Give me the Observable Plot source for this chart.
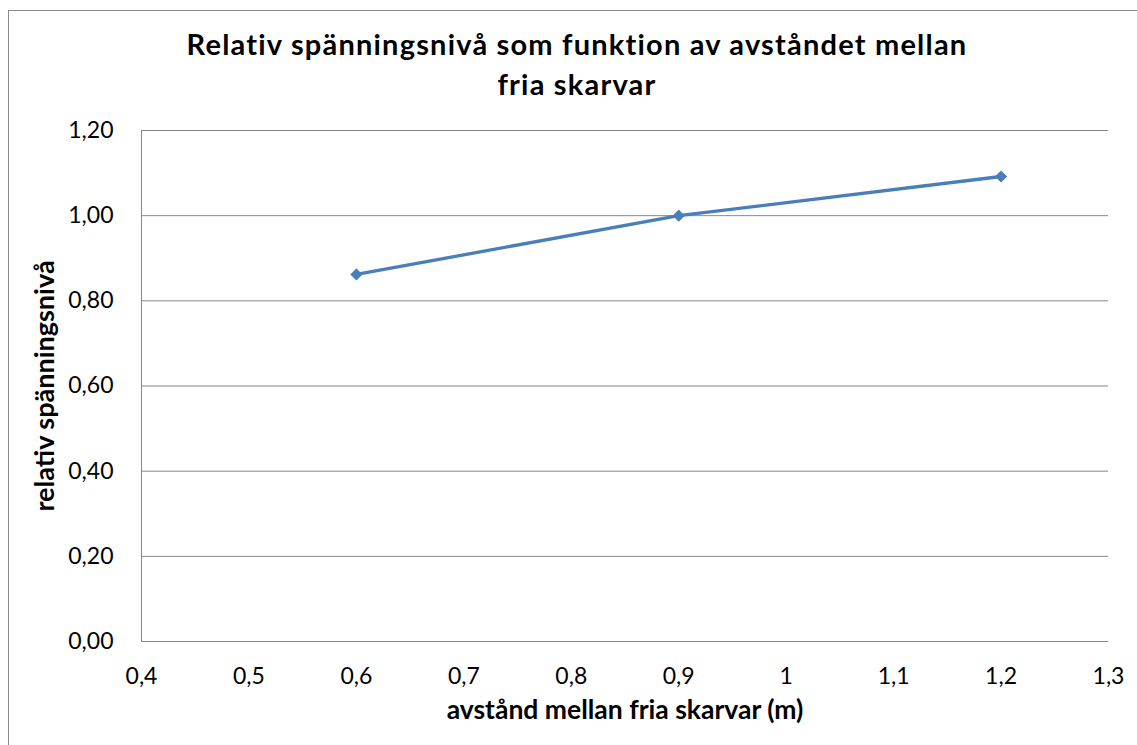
<!DOCTYPE html>
<html><head><meta charset="utf-8">
<script src="https://cdn.jsdelivr.net/npm/d3@7"></script>
<script src="https://cdn.jsdelivr.net/npm/@observablehq/plot@0.6"></script>
<style>
body{margin:0;background:#fff;width:1137px;height:745px;overflow:hidden;position:relative;font-family:Lato,sans-serif}
#frame{position:absolute;left:8px;top:10px;width:1200px;height:800px;border-left:1px solid #8a8a8a;border-top:1px solid #8a8a8a;z-index:2;pointer-events:none}
#title{position:absolute;left:0;top:24px;width:1154px;text-align:center;font-weight:bold;font-size:29px;letter-spacing:1.2px;line-height:40px;color:#000}
#chart{position:absolute;left:0;top:110px}
</style></head><body>
<div id="frame"></div>
<div id="title">Relativ spänningsnivå som funktion av avståndet mellan<br>fria skarvar</div>
<div id="chart"></div>
<script>
const distances = [0.6, 0.9, 1.2];
const levels = [0.862, 1.0, 1.092];
const xTicks = [0.4, 0.5, 0.6, 0.7, 0.8, 0.9, 1, 1.1, 1.2, 1.3];
const yTicks = [0, 0.2, 0.4, 0.6, 0.8, 1.0, 1.2];
const xTitle = "avstånd mellan fria skarvar (m)";
const yTitle = "relativ spänningsnivå";

const data = distances.map((d, i) => ({x: d, y: levels[i]}));
const gray = "#868686";
const blue = "#4a7ebb";
const fmtY = d => d.toFixed(2).replace(".", ",");
const fmtX = d => String(+d.toFixed(1)).replace(".", ",");

const chart = Plot.plot({
  width: 1137,
  height: 635,
  marginTop: 20,
  marginBottom: 104,
  marginLeft: 141,
  marginRight: 29,
  style: {background: "transparent", color: "#000", fontFamily: "Lato, sans-serif"},
  x: {domain: [0.4, 1.3]},
  y: {domain: [0, 1.2]},
  marks: [
    Plot.gridY(yTicks, {stroke: gray, strokeOpacity: 1, strokeWidth: 1}),
    Plot.ruleX([0.4], {stroke: gray, strokeWidth: 1}),
    Plot.axisY(yTicks, {tickSize: 0, tickPadding: 28, tickFormat: fmtY, fontSize: 23, label: null}),
    Plot.axisX(xTicks, {tickSize: 0, tickPadding: 26, tickFormat: fmtX, fontSize: 23, label: null}),
    Plot.line(data, {x: "x", y: "y", stroke: blue, strokeWidth: 3.3}),
    Plot.dot(data, {x: "x", y: "y", symbol: "diamond2", r: 5.5, fill: blue, stroke: "none"}),
    Plot.text([yTitle], {frameAnchor: "left", dx: -96, rotate: -90, textAnchor: "middle", fontSize: 27, fontWeight: "bold", fill: "#000"}),
    Plot.text([xTitle], {frameAnchor: "bottom", dy: 77, fontSize: 26.5, fontWeight: "bold", fill: "#000"})
  ]
});
document.getElementById("chart").appendChild(chart);
</script>
</body></html>
